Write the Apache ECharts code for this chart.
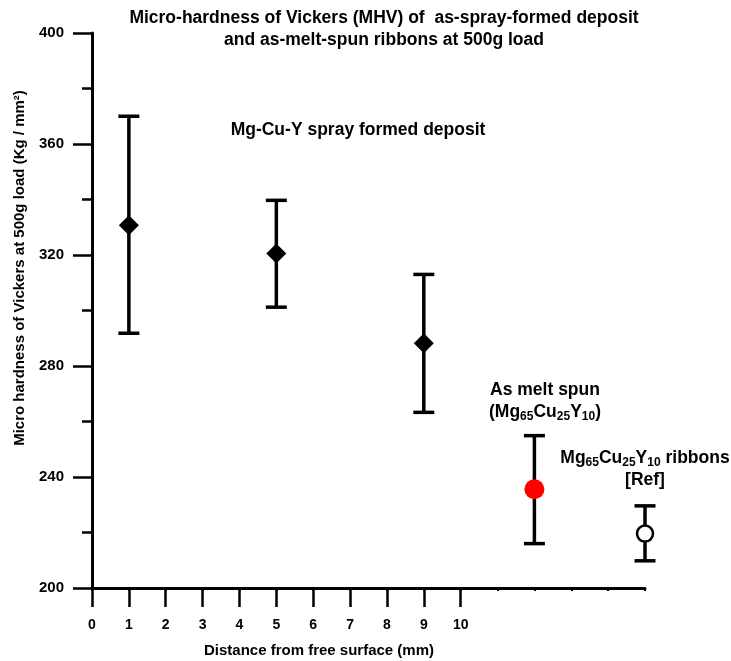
<!DOCTYPE html>
<html><head><meta charset="utf-8">
<script src="https://cdn.jsdelivr.net/npm/echarts@6/dist/echarts.min.js"></script>
<style>html,body{margin:0;padding:0;background:#fff}#c{width:731px;height:661px}</style>
</head><body><div id="c"></div>
<script>
// ---- data ----
const sprayX = [1, 5, 9];
const sprayMean = [330.7, 320.5, 288.2];
const sprayHigh = [370.0, 339.7, 313.0];
const sprayLow = [291.8, 301.2, 263.3];

const meltX = [12];
const meltMean = [235.6];
const meltHigh = [254.9];
const meltLow = [216.0];

const ribbonX = [15];
const ribbonMean = [219.6];
const ribbonHigh = [229.6];
const ribbonLow = [209.8];

const yTicks = [200, 240, 280, 320, 360, 400];
const xTickLabels = [0, 1, 2, 3, 4, 5, 6, 7, 8, 9, 10];
const xMax = 15;

// ---- chart ----
const F = "'Liberation Sans', Arial, Helvetica, sans-serif";
const chart = echarts.init(document.getElementById('c'), null, {renderer: 'canvas'});
const G = {left: 92, right: 86, top: 33, bottom: 73};
const gridW = 731 - G.left - G.right;
const labMax = xTickLabels[xTickLabels.length - 1];

function pts(xs, ys) { return xs.map((x, i) => [x, ys[i]]); }
function bars(xs, lo, hi) { return xs.map((x, i) => [x, lo[i], hi[i]]); }

function errRender(params, api) {
  const x = api.value(0), lo = api.value(1), hi = api.value(2);
  const a = api.coord([x, lo]), b = api.coord([x, hi]);
  const hw = 10.5;
  const st = {stroke: '#000', lineWidth: 3.5};
  return {type: 'group', children: [
    {type: 'line', shape: {x1: a[0], y1: a[1], x2: b[0], y2: b[1]}, style: st},
    {type: 'line', shape: {x1: a[0] - hw, y1: a[1], x2: a[0] + hw, y2: a[1]}, style: st},
    {type: 'line', shape: {x1: b[0] - hw, y1: b[1], x2: b[0] + hw, y2: b[1]}, style: st}
  ]};
}

const allBars = bars(sprayX, sprayLow, sprayHigh)
  .concat(bars(meltX, meltLow, meltHigh))
  .concat(bars(ribbonX, ribbonLow, ribbonHigh));

const txt = {fill: '#000', fontFamily: F, fontWeight: 'bold'};
const sub = {fontSize: 12, fontWeight: 'bold', fontFamily: F, lineHeight: 13, verticalAlign: 'bottom'};
const big = {fontSize: 17.5, fontWeight: 'bold', fontFamily: F, lineHeight: 22};

const option = {
  animation: false,
  backgroundColor: '#fff',
  grid: [
    {left: G.left, right: G.right, top: G.top, bottom: G.bottom},
    {left: G.left, width: gridW * labMax / xMax, top: G.top, bottom: G.bottom}
  ],
  xAxis: [
    {gridIndex: 0, type: 'value', min: 0, max: xMax, interval: 1,
     axisLine: {show: true, onZero: false, lineStyle: {color: '#000', width: 3}},
     axisTick: {show: true, length: 3, lineStyle: {color: '#000', width: 2}},
     axisLabel: {show: false}, splitLine: {show: false}},
    {gridIndex: 1, type: 'value', min: 0, max: labMax, interval: 1,
     axisLine: {show: false},
     axisTick: {show: true, length: 19, lineStyle: {color: '#000', width: 2.5}},
     axisLabel: {show: true, margin: 30, color: '#000', fontSize: 14, fontWeight: 'bold', fontFamily: F,
       formatter: v => (xTickLabels.indexOf(v) >= 0 ? String(v) : '')},
     splitLine: {show: false}}
  ],
  yAxis: [
    {gridIndex: 0, type: 'value', min: yTicks[0], max: yTicks[yTicks.length - 1], interval: yTicks[1] - yTicks[0],
     axisLine: {show: true, onZero: false, lineStyle: {color: '#000', width: 3}},
     axisTick: {show: true, length: 19, lineStyle: {color: '#000', width: 2.5}},
     minorTick: {show: true, splitNumber: 2, length: 10, lineStyle: {color: '#000', width: 2.5}},
     axisLabel: {show: true, margin: 28, color: '#000', fontSize: 15, fontWeight: 'bold', fontFamily: F},
     splitLine: {show: false}},
    {gridIndex: 1, type: 'value', min: yTicks[0], max: yTicks[yTicks.length - 1], show: false}
  ],
  series: [
    {type: 'custom', xAxisIndex: 0, yAxisIndex: 0, renderItem: errRender,
     encode: {x: 0, y: [1, 2]}, data: allBars, z: 2},
    {type: 'scatter', name: 'spray', xAxisIndex: 0, yAxisIndex: 0, symbol: 'diamond', symbolSize: 20,
     itemStyle: {color: '#000', opacity: 1}, data: pts(sprayX, sprayMean), z: 3},
    {type: 'scatter', name: 'melt', xAxisIndex: 0, yAxisIndex: 0, symbol: 'circle', symbolSize: 20,
     itemStyle: {color: '#ff0000', opacity: 1}, data: pts(meltX, meltMean), z: 3},
    {type: 'scatter', name: 'ribbon', xAxisIndex: 0, yAxisIndex: 0, symbol: 'circle', symbolSize: 16, clip: false,
     itemStyle: {color: '#fff', borderColor: '#000', borderWidth: 2.5, opacity: 1}, data: pts(ribbonX, ribbonMean), z: 3}
  ],
  graphic: [
    {type: 'text', x: 384, y: 29, style: Object.assign({}, txt, {
      text: 'Micro-hardness of Vickers (MHV) of  as-spray-formed deposit\nand as-melt-spun ribbons at 500g load',
      fontSize: 17.5, lineHeight: 22, align: 'center', verticalAlign: 'middle'})},
    {type: 'text', x: 358, y: 130, style: Object.assign({}, txt, {
      text: 'Mg-Cu-Y spray formed deposit', fontSize: 17.5, align: 'center', verticalAlign: 'middle'})},
    {type: 'text', x: 545, y: 401, style: Object.assign({}, txt, {
      text: '{b|As melt spun}\n{b|(Mg}{s|65}{b|Cu}{s|25}{b|Y}{s|10}{b|)}',
      align: 'center', verticalAlign: 'middle', rich: {b: big, s: sub}})},
    {type: 'text', x: 645, y: 469, style: Object.assign({}, txt, {
      text: '{b|Mg}{s|65}{b|Cu}{s|25}{b|Y}{s|10}{b| ribbons}\n{b|[Ref]}',
      align: 'center', verticalAlign: 'middle', rich: {b: big, s: sub}})},
    {type: 'text', x: 319, y: 651, style: Object.assign({}, txt, {
      text: 'Distance from free surface (mm)', fontSize: 15, align: 'center', verticalAlign: 'middle'})},
    {type: 'text', x: 20, y: 268, rotation: Math.PI / 2, style: Object.assign({}, txt, {
      text: 'Micro hardness of Vickers at 500g load (Kg / mm²)', fontSize: 15, align: 'center', verticalAlign: 'middle'})}
  ]
};
chart.setOption(option);
</script>
</body></html>
